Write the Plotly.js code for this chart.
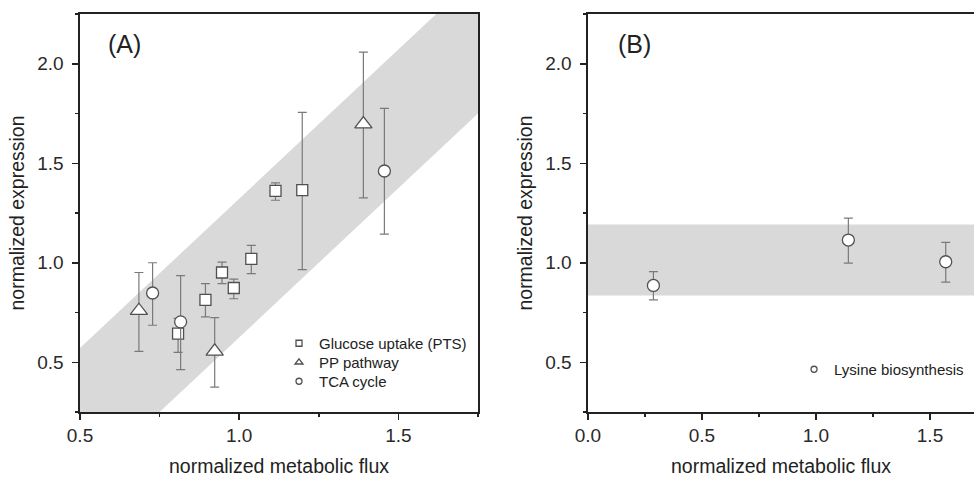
<!DOCTYPE html>
<html><head><meta charset="utf-8">
<script src="https://cdn.plot.ly/plotly-3.0.1.min.js"></script>
<style>html,body{margin:0;padding:0;background:#fff}#chart{width:974px;height:477px}</style>
</head><body><div id="chart"></div>
<script>
// ---- data ----
const glucoseX  = [0.808, 0.894, 0.946, 0.983, 1.038, 1.114, 1.198];
const glucoseY  = [0.644, 0.813, 0.951, 0.873, 1.019, 1.361, 1.365];
const glucoseHi = [0.720, 0.895, 1.003, 0.918, 1.087, 1.401, 1.756];
const glucoseLo = [0.550, 0.728, 0.895, 0.819, 0.945, 1.314, 0.965];

const ppX  = [0.685, 0.923, 1.390];
const ppY  = [0.759, 0.555, 1.697];
const ppHi = [0.951, 0.724, 2.058];
const ppLo = [0.555, 0.375, 1.326];

const tcaX  = [0.728, 0.816, 1.456];
const tcaY  = [0.848, 0.703, 1.461];
const tcaHi = [1.000, 0.935, 1.776];
const tcaLo = [0.686, 0.463, 1.144];

const lysX  = [0.287, 1.142, 1.569];
const lysY  = [0.886, 1.114, 1.005];
const lysHi = [0.955, 1.224, 1.102];
const lysLo = [0.813, 0.998, 0.903];

// band in panel A: y = slope*x + intercept, between two intercepts
const bandSlope = 1.5;
const bandUpperIntercept = -0.178;
const bandLowerIntercept = -0.875;
const bandXExtent = [0.3, 2.0];
// band in panel B: horizontal
const bandBLo = 0.835, bandBHi = 1.192;
const bandBXExtent = [-0.2, 2.0];

const seriesNames = ['Glucose uptake (PTS)', 'PP pathway', 'TCA cycle', 'Lysine biosynthesis'];
const xTitle = 'normalized metabolic flux';
const yTitle = 'normalized expression';
const panelLabels = ['(A)', '(B)'];

// ---- helpers ----
const FONT = 'Liberation Sans, Arial, Helvetica, sans-serif';
const errUp = (y, hi) => hi.map((h, i) => +(h - y[i]).toFixed(4));
const errDn = (y, lo) => lo.map((l, i) => +(y[i] - l).toFixed(4));
const errStyle = (y, hi, lo) => ({type: 'data', symmetric: false, array: errUp(y, hi), arrayminus: errDn(y, lo),
  color: '#7a7a7a', thickness: 1.2, width: 4.5});
const mk = (symbol, size) => ({symbol: symbol, size: size, color: '#ffffff', line: {color: '#505050', width: 1.3}});

const bx = [bandXExtent[0], bandXExtent[1], bandXExtent[1], bandXExtent[0]];
const by = [bandSlope*bx[0] + bandUpperIntercept, bandSlope*bx[1] + bandUpperIntercept,
            bandSlope*bx[2] + bandLowerIntercept, bandSlope*bx[3] + bandLowerIntercept];

const traces = [
  {x: bx, y: by, type: 'scatter', mode: 'lines', fill: 'toself', fillcolor: '#d9d9d9',
   line: {width: 0, color: 'rgba(0,0,0,0)'}, hoverinfo: 'skip', showlegend: false, xaxis: 'x', yaxis: 'y'},
  {x: [bandBXExtent[0], bandBXExtent[1], bandBXExtent[1], bandBXExtent[0]], y: [bandBLo, bandBLo, bandBHi, bandBHi],
   type: 'scatter', mode: 'lines', fill: 'toself', fillcolor: '#d9d9d9',
   line: {width: 0, color: 'rgba(0,0,0,0)'}, hoverinfo: 'skip', showlegend: false, xaxis: 'x2', yaxis: 'y2'},

  {x: glucoseX, y: glucoseY, type: 'scatter', mode: 'markers', marker: mk('square', 11),
   error_y: errStyle(glucoseY, glucoseHi, glucoseLo), showlegend: false, xaxis: 'x', yaxis: 'y'},
  {x: ppX, y: ppY, type: 'scatter', mode: 'markers', marker: mk('triangle-up', 15),
   error_y: errStyle(ppY, ppHi, ppLo), showlegend: false, xaxis: 'x', yaxis: 'y'},
  {x: tcaX, y: tcaY, type: 'scatter', mode: 'markers', marker: mk('circle', 12),
   error_y: errStyle(tcaY, tcaHi, tcaLo), showlegend: false, xaxis: 'x', yaxis: 'y'},
  {x: lysX, y: lysY, type: 'scatter', mode: 'markers', marker: mk('circle', 12),
   error_y: errStyle(lysY, lysHi, lysLo), showlegend: false, xaxis: 'x2', yaxis: 'y2'},

  // legend entries (small symbols, as in the reference)
  {x: [null], y: [null], type: 'scatter', mode: 'markers', name: seriesNames[0], marker: mk('square', 6), legend: 'legend', xaxis: 'x', yaxis: 'y'},
  {x: [null], y: [null], type: 'scatter', mode: 'markers', name: seriesNames[1], marker: mk('triangle-up', 7), legend: 'legend3', xaxis: 'x', yaxis: 'y'},
  {x: [null], y: [null], type: 'scatter', mode: 'markers', name: seriesNames[2], marker: mk('circle', 6), legend: 'legend4', xaxis: 'x', yaxis: 'y'},
  {x: [null], y: [null], type: 'scatter', mode: 'markers', name: seriesNames[3], marker: mk('circle', 6), legend: 'legend2', xaxis: 'x2', yaxis: 'y2'}
];

const axisCommon = {
  showgrid: false, zeroline: false, showline: true, linecolor: '#222', linewidth: 1.6,
  ticks: 'outside', ticklen: 6, tickwidth: 1.5, tickcolor: '#222',
  tickfont: {family: FONT, size: 19, color: '#2a2a2a'},
  tickformat: '.1f', dtick: 0.5,
  minor: {dtick: 0.25, ticks: 'outside', ticklen: 3, tickwidth: 1.5, tickcolor: '#222', showgrid: false}
};
const titleFont = {family: FONT, size: 19.5, color: '#222'};
const legendStyle = (x, y) => ({x: x, y: y, xanchor: 'left', yanchor: 'top', bgcolor: 'rgba(0,0,0,0)',
  font: {family: FONT, size: 15, color: '#222'}, itemwidth: 30});

const layout = {
  width: 974, height: 477,
  margin: {l: 80, r: 0, t: 14, b: 65},
  paper_bgcolor: '#fff', plot_bgcolor: '#fff',
  showlegend: true,
  xaxis: Object.assign({}, axisCommon, {domain: [0, 0.4452], range: [0.5, 1.75], tick0: 0.5, mirror: true, anchor: 'y',
    title: {text: xTitle, font: titleFont, standoff: 14}}),
  yaxis: Object.assign({}, axisCommon, {domain: [0, 1], range: [0.25, 2.25], tick0: 0.5, mirror: true, anchor: 'x',
    ticklabelstandoff: 5, title: {text: yTitle, font: titleFont, standoff: 7}}),
  xaxis2: Object.assign({}, axisCommon, {domain: [0.5682, 1], range: [0, 1.693], tick0: 0, mirror: true, anchor: 'y2',
    title: {text: xTitle, font: titleFont, standoff: 14}}),
  yaxis2: Object.assign({}, axisCommon, {domain: [0, 1], range: [0.25, 2.25], tick0: 0.5, mirror: false, anchor: 'x2',
    ticklabelstandoff: 5, title: {text: yTitle, font: titleFont, standoff: 7}}),
  legend: legendStyle(0.2226, 0.2136),
  legend3: legendStyle(0.2226, 0.1658),
  legend4: legendStyle(0.2226, 0.1181),
  legend2: legendStyle(0.7987, 0.1482),
  annotations: [
    {text: panelLabels[0], xref: 'x domain', yref: 'y domain', x: 0.1106, y: 0.925, xanchor: 'center', yanchor: 'middle',
     showarrow: false, font: {family: FONT, size: 25, color: '#222'}},
    {text: panelLabels[1], xref: 'x2 domain', yref: 'y2 domain', x: 0.1218, y: 0.925, xanchor: 'center', yanchor: 'middle',
     showarrow: false, font: {family: FONT, size: 25, color: '#222'}}
  ]
};

Plotly.newPlot('chart', traces, layout, {staticPlot: true, displayModeBar: false});
</script></body></html>
